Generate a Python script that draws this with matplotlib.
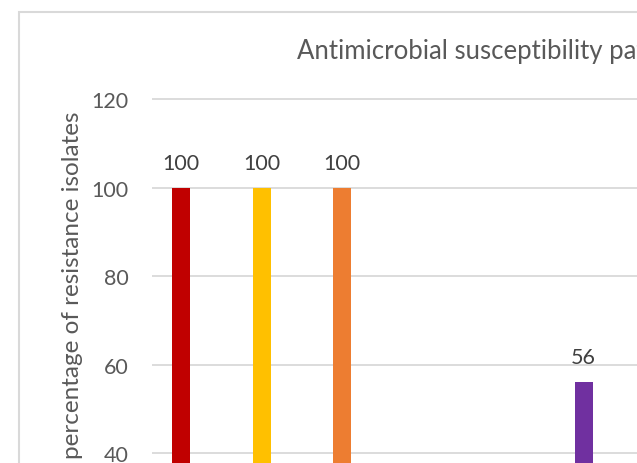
import matplotlib.pyplot as plt
import matplotlib.patches as patches
import numpy as np

plt.rcParams['font.family'] = ['Lato', 'DejaVu Sans']

# Values (categories 4 and 5 fall below the visible range)
categories = ["A", "B", "C", "D", "E", "F"]
resistance = [100, 100, 100, np.nan, np.nan, 56]
bar_colors = ["#C00000", "#FFC000", "#ED7D31", "#4472C4", "#70AD47", "#7030A0"]
yticks = [40, 60, 80, 100, 120]

title = "Antimicrobial susceptibility pattern"
ylabel = "percentage of resistance isolates"

W, H = 637, 464
fig = plt.figure(figsize=(W / 100, H / 100), dpi=100)

# plot area: left edge of gridlines at x=152px, 120 gridline at y=100px
ax = fig.add_axes([152 / W, 0, 1 - 152 / W, (H - 90) / H])
px_per_unit = (454 - 100) / 80
ax.set_ylim(40 - 10 / px_per_unit, 120 + 10 / px_per_unit)
ax.set_xlim(-29 / 80.5, (W - 181) / 80.5)

x = np.arange(len(categories))
bars = ax.bar(x, resistance, width=18 / 80.5, color=bar_colors, zorder=3)

for xi, v in zip(x, resistance):
    if np.isnan(v):
        continue
    ax.annotate(f"{v:g}", xy=(xi, v), xytext=(0, 18), textcoords="offset points",
                ha="center", va="center", fontsize=15.5, color="#404040")

ax.set_yticks(yticks)
ax.set_xticks([])
ax.yaxis.grid(True, color="#d9d9d9", linewidth=1.3, zorder=0)
ax.tick_params(axis="y", length=0, pad=17, labelsize=15.5, labelcolor="#595959")
for s in ax.spines.values():
    s.set_visible(False)

# outer chart border (only left and top edges fall inside the crop)
border = patches.Rectangle((19 / W, -0.1), 1.2, 1 - 13 / H + 0.1, transform=fig.transFigure,
                           fill=False, edgecolor="#d9d9d9", linewidth=1.5)
fig.patches.append(border)

fig.text(297 / W, 1 - 52 / H, title, ha="left", va="center", fontsize=18.5, color="#595959")
fig.text(73 / W, 1 - 285 / H, ylabel, rotation=90, ha="center", va="center",
         fontsize=17.5, color="#595959")

fig.savefig("out.png", dpi=100)
